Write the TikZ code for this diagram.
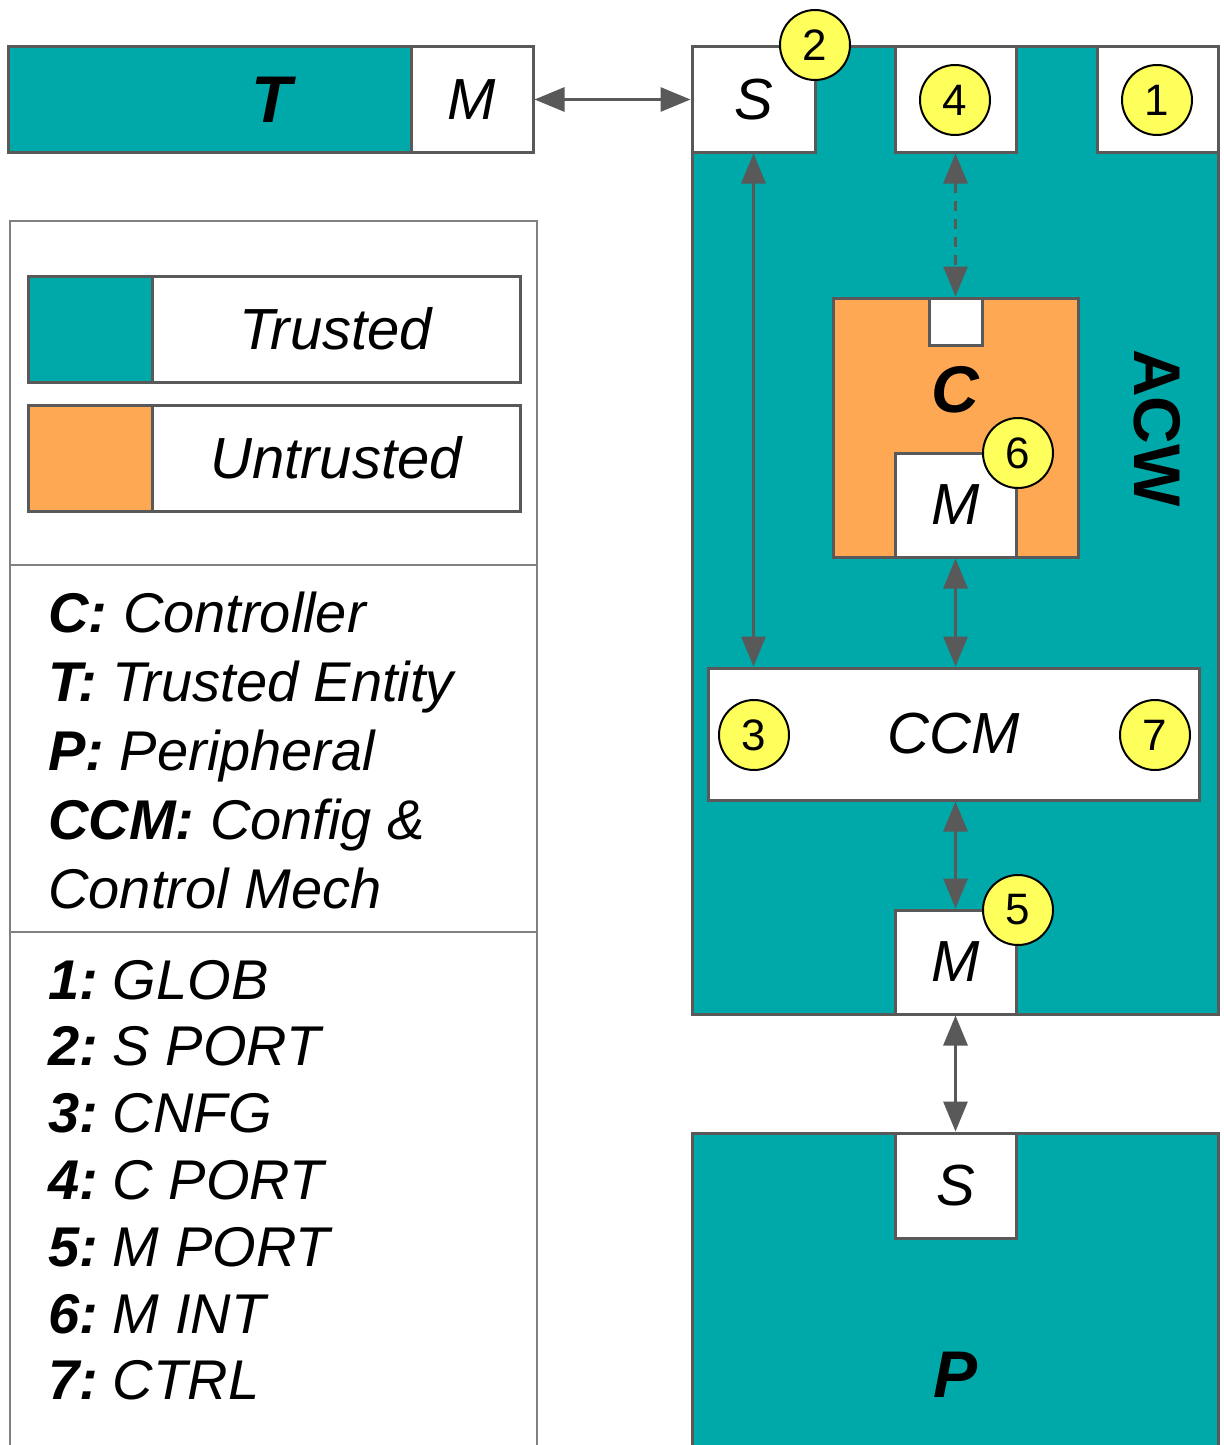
\documentclass[tikz,border=0pt]{standalone}
\usepackage{fontspec}
\setmainfont{Liberation Sans}
\usetikzlibrary{arrows.meta}
\definecolor{trustc}{HTML}{00A9A9}
\definecolor{untrc}{HTML}{FFA854}
\definecolor{badgec}{HTML}{FFFF5C}
\definecolor{linec}{HTML}{595959}
\definecolor{legc}{HTML}{808080}
\tikzset{
  box/.style={draw=linec,line width=1.5pt,fill=white,inner sep=0pt,font=\fontsize{29}{34}\selectfont\itshape},
  zone/.style={box,fill=trustc},
  badge/.style={circle,draw=black,line width=1pt,fill=badgec,minimum size=35pt,inner sep=0pt,font=\fontsize{22}{24}\selectfont},
  ar/.style={{Triangle[length=15pt,width=12pt]}-{Triangle[length=15pt,width=12pt]},line width=1.5pt,linec},
  big/.style={inner sep=0pt,font=\fontsize{33}{36}\selectfont\bfseries\itshape},
  keyt/.style={anchor=base west,inner sep=0pt,font=\fontsize{28}{34}\selectfont\itshape},
  legline/.style={draw=legc,line width=1.2pt}
}
\begin{document}
\begin{tikzpicture}[x=0.5pt,y=-0.5pt]
\useasboundingbox (0,0) rectangle (1224,1445);
\clip (0,0) rectangle (1224,1445);
% trusted entity
\node[zone,minimum width=201.5pt,minimum height=52.5pt] (tent) at (209.5,99.5) {};
\node[big] (tlab) at (272,99.5) {T};
\node[box,minimum width=61pt,minimum height=52.5pt] (tm) at (472,99.5) {M};
% access control wrapper
\node[zone,minimum width=263pt,minimum height=483.5pt] (acw) at (955,530.5) {};
\node[inner sep=0pt,rotate=-90,font=\fontsize{33}{36}\selectfont\bfseries] (acwlab) at (1157,428) {ACW};
\node[box,minimum width=61.5pt,minimum height=52.5pt] (sport) at (753.5,99.5) {S};
\node[box,minimum width=60.5pt,minimum height=52.5pt] (cport) at (955.5,99.5) {};
\node[box,minimum width=60.5pt,minimum height=52.5pt] (glob) at (1157.5,99.5) {};
% controller
\node[box,fill=untrc,minimum width=122.5pt,minimum height=129.5pt] (ctrl) at (955.5,427.5) {};
\node[box,minimum width=26.5pt,minimum height=23.5pt] (cin) at (955.5,321.5) {};
\node[big] (clab) at (955,390) {C};
\node[box,minimum width=60.5pt,minimum height=52pt] (mint) at (955.5,505) {M};
\node[box,minimum width=245.5pt,minimum height=66pt] (ccm) at (953.5,734) {CCM};
\node[box,minimum width=60.5pt,minimum height=52pt] (mport) at (955.5,962) {M};
% peripheral
\node[zone,minimum width=263pt,minimum height=170pt] (per) at (955,1303) {};
\node[box,minimum width=60.5pt,minimum height=52.5pt] (sper) at (955.5,1185.5) {S};
\node[big] (plab) at (955,1375) {P};
% links
\draw[ar] (tm.east) -- (sport.west);
\draw[ar] (sport.south) -- (sport.south |- ccm.north);
\draw[ar,dash pattern=on 5pt off 4pt] (cport.south) -- (cin.north);
\draw[ar] (mint.south) -- (mint.south |- ccm.north);
\draw[ar] (ccm.south -| mport.north) -- (mport.north);
\draw[ar] (mport.south) -- (sper.north);
% numbered badges
\node[badge] (b1) at (1157,100) {1};
\node[badge] (b2) at (815,45) {2};
\node[badge] (b3) at (754,735) {3};
\node[badge] (b4) at (955,100) {4};
\node[badge] (b5) at (1018,910) {5};
\node[badge] (b6) at (1018,453) {6};
\node[badge] (b7) at (1155,735) {7};
% legend
\draw[legline] (10,221) rectangle (537,1470);
\draw[legline] (10,565) -- (537,565);
\draw[legline] (10,932) -- (537,932);
\node[zone,minimum width=62pt,minimum height=53pt] (swt) at (90,329) {};
\node[box,minimum width=184pt,minimum height=53pt] (lbt) at (336,329) {Trusted};
\node[box,fill=untrc,minimum width=62pt,minimum height=53pt] (swu) at (90,458) {};
\node[box,minimum width=184pt,minimum height=53pt] (lbu) at (336,458) {Untrusted};
\node[keyt] (dc) at (48,632) {\textbf{C:} Controller};
\node[keyt] (dt) at (48,701) {\textbf{T:} Trusted Entity};
\node[keyt] (dp) at (48,770) {\textbf{P:} Peripheral};
\node[keyt] (dccm) at (48,839) {\textbf{CCM:} Config \&};
\node[keyt] (dccm2) at (48,908) {Control Mech};
\foreach \n/\txt in {1/GLOB,2/S PORT,3/CNFG,4/C PORT,5/M PORT,6/M INT,7/CTRL}
  \node[keyt] (key\n) at (48,{999+66.8*(\n-1)}) {\textbf{\n:}\hspace{-3pt} \txt};
\end{tikzpicture}
\end{document}
